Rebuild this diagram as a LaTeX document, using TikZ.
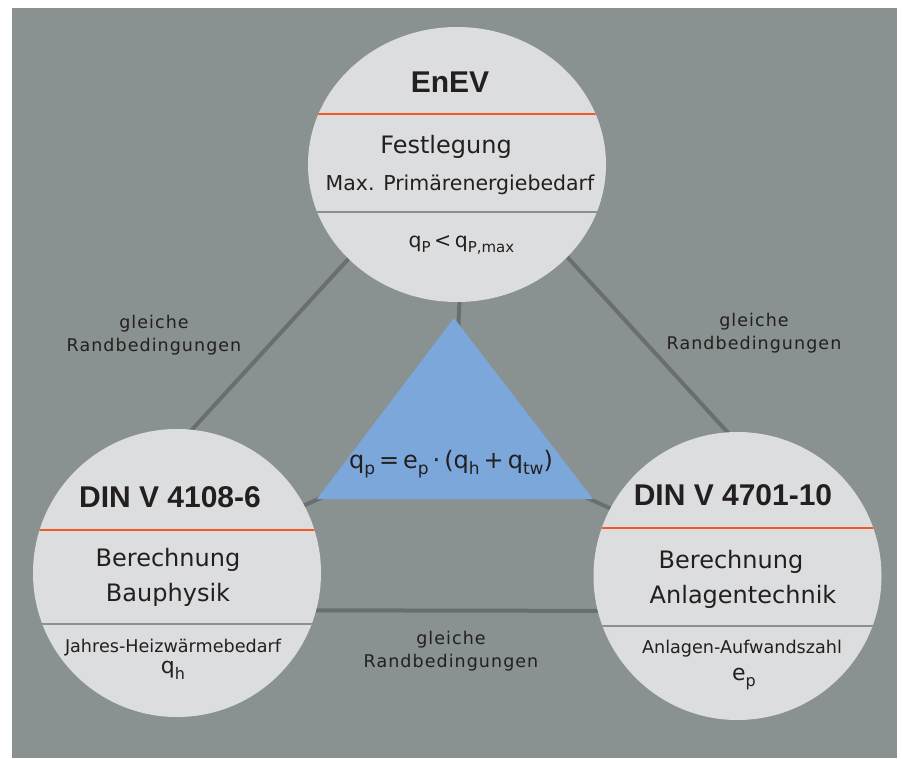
\documentclass[tikz,border=0pt]{standalone}
\usepackage{fontspec}
\setmainfont{DejaVu Sans}
\newfontfamily\headfont{Liberation Sans}
\newfontfamily\labelfont[LetterSpace=6]{DejaVu Sans}
\usetikzlibrary{shapes.geometric,backgrounds}

\definecolor{paneltone}{RGB}{137,145,145}
\definecolor{disctone}{RGB}{220,221,222}
\definecolor{linktone}{RGB}{107,110,112}
\definecolor{accent}{RGB}{241,90,36}
\definecolor{ruletone}{RGB}{140,142,144}
\definecolor{triblue}{RGB}{123,167,218}
\definecolor{ink}{RGB}{35,31,32}

\newcommand{\idx}[2][15]{\raisebox{-0.28em}{\fontsize{#1}{#1}\selectfont #2}}

\tikzset{
	disc/.style={ellipse, fill=disctone, inner sep=0pt},
	bars/.style 2 args={path picture={
		\draw[accent, line width=2.5pt] ([yshift=#1]path picture bounding box.west) -- ([yshift=#1]path picture bounding box.east);
		\draw[ruletone, line width=1.5pt] ([yshift=#2]path picture bounding box.west) -- ([yshift=#2]path picture bounding box.east);}},
	link/.style={draw=linktone, line width=4pt, shorten <=-6pt, shorten >=-6pt},
	heading/.style={font=\headfont\bfseries\fontsize{30}{30}\selectfont, text=ink, anchor=base, inner sep=0pt},
	bigtext/.style={font=\fontsize{24}{24}\selectfont, text=ink, anchor=base, inner sep=0pt},
	midtext/.style={font=\fontsize{20.5}{20.5}\selectfont, text=ink, anchor=base, inner sep=0pt},
	smalltext/.style={font=\fontsize{17.6}{17.6}\selectfont, text=ink, anchor=base, inner sep=0pt},
	symtext/.style={font=\fontsize{22}{22}\selectfont, text=ink, anchor=base, inner sep=0pt},
	relation/.style={font=\labelfont\fontsize{17.5}{23}\selectfont, text=ink, align=center, anchor=base, inner sep=0pt}
}

\begin{document}
\begin{tikzpicture}[x=1pt, y=-1pt]
	\useasboundingbox (0,0) rectangle (902,758);
	\begin{scope}[on background layer]
		\fill[paneltone] (12,8) rectangle (897,758);
	\end{scope}

	% the three standards
	\node[disc, minimum width=298pt, minimum height=275pt, bars={50.5pt}{-47.5pt}] (enev) at (457,164.5) {};
	\node[disc, minimum width=288pt, minimum height=288pt, bars={43pt}{-51pt}] (bau) at (177,573) {};
	\node[disc, minimum width=288pt, minimum height=288pt, bars={48pt}{-50pt}] (anl) at (737.5,576) {};

	\node[heading] (enevtitle) at (450,92) {EnEV};
	\node[bigtext] (enevtask) at (446,153) {Festlegung};
	\node[midtext] (enevgoal) at (460,190) {Max. Primärenergiebedarf};
	\node[midtext] (enevrule) at (461.5,247) {q\idx{P}\,<\,q\idx{P,max}};

	\node[heading] (bautitle) at (170,507) {DIN V 4108-6};
	\node[bigtext] (bautask) at (168,566) {Berechnung};
	\node[bigtext] (baufield) at (168,601) {Bauphysik};
	\node[smalltext] (bauvalue) at (173,652) {Jahres-Heizwärmebedarf};
	\node[symtext] (bausym) at (173,673) {q\idx[16]{h}};

	\node[heading] (anltitle) at (733,505) {DIN V 4701-10};
	\node[bigtext] (anltask) at (731,568) {Berechnung};
	\node[bigtext] (anlfield) at (743,603) {Anlagentechnik};
	\node[smalltext] (anlvalue) at (742,653) {Anlagen-Aufwandszahl};
	\node[symtext] (anlsym) at (744,680) {e\idx[16]{p}};

	% centre triangle
	\coordinate (tA) at (454,318);
	\coordinate (tB) at (317,499);
	\coordinate (tC) at (593,499);
	\coordinate (tM) at (454,438);
	\node[font=\fontsize{24}{24}\selectfont, text=ink, anchor=base, inner sep=0pt] (formula) at (451,468)
		{q\idx[17]{p}\,=\,e\idx[17]{p}\,·\,(q\idx[17]{h}\,+\,q\idx[17]{tw})};

	\begin{scope}[on background layer]
		\draw[link] (enev.221) -- (bau.84);
		\draw[link] (enev.320) -- (anl.94);
		\draw[link] (bau.345) -- (anl.194);
		\draw[link] (tM) -- (enev.271);
		\draw[link] (tM) -- (bau.28);
		\draw[link] (tM) -- (anl.152);
		\fill[triblue] (tA) -- (tB) -- (tC) -- cycle;
	\end{scope}

	\node[relation] (linkleft) at (154,351) {gleiche\\Randbedingungen};
	\node[relation] (linkright) at (754,349) {gleiche\\Randbedingungen};
	\node[relation] (linkbottom) at (451,667) {gleiche\\Randbedingungen};
\end{tikzpicture}
\end{document}
